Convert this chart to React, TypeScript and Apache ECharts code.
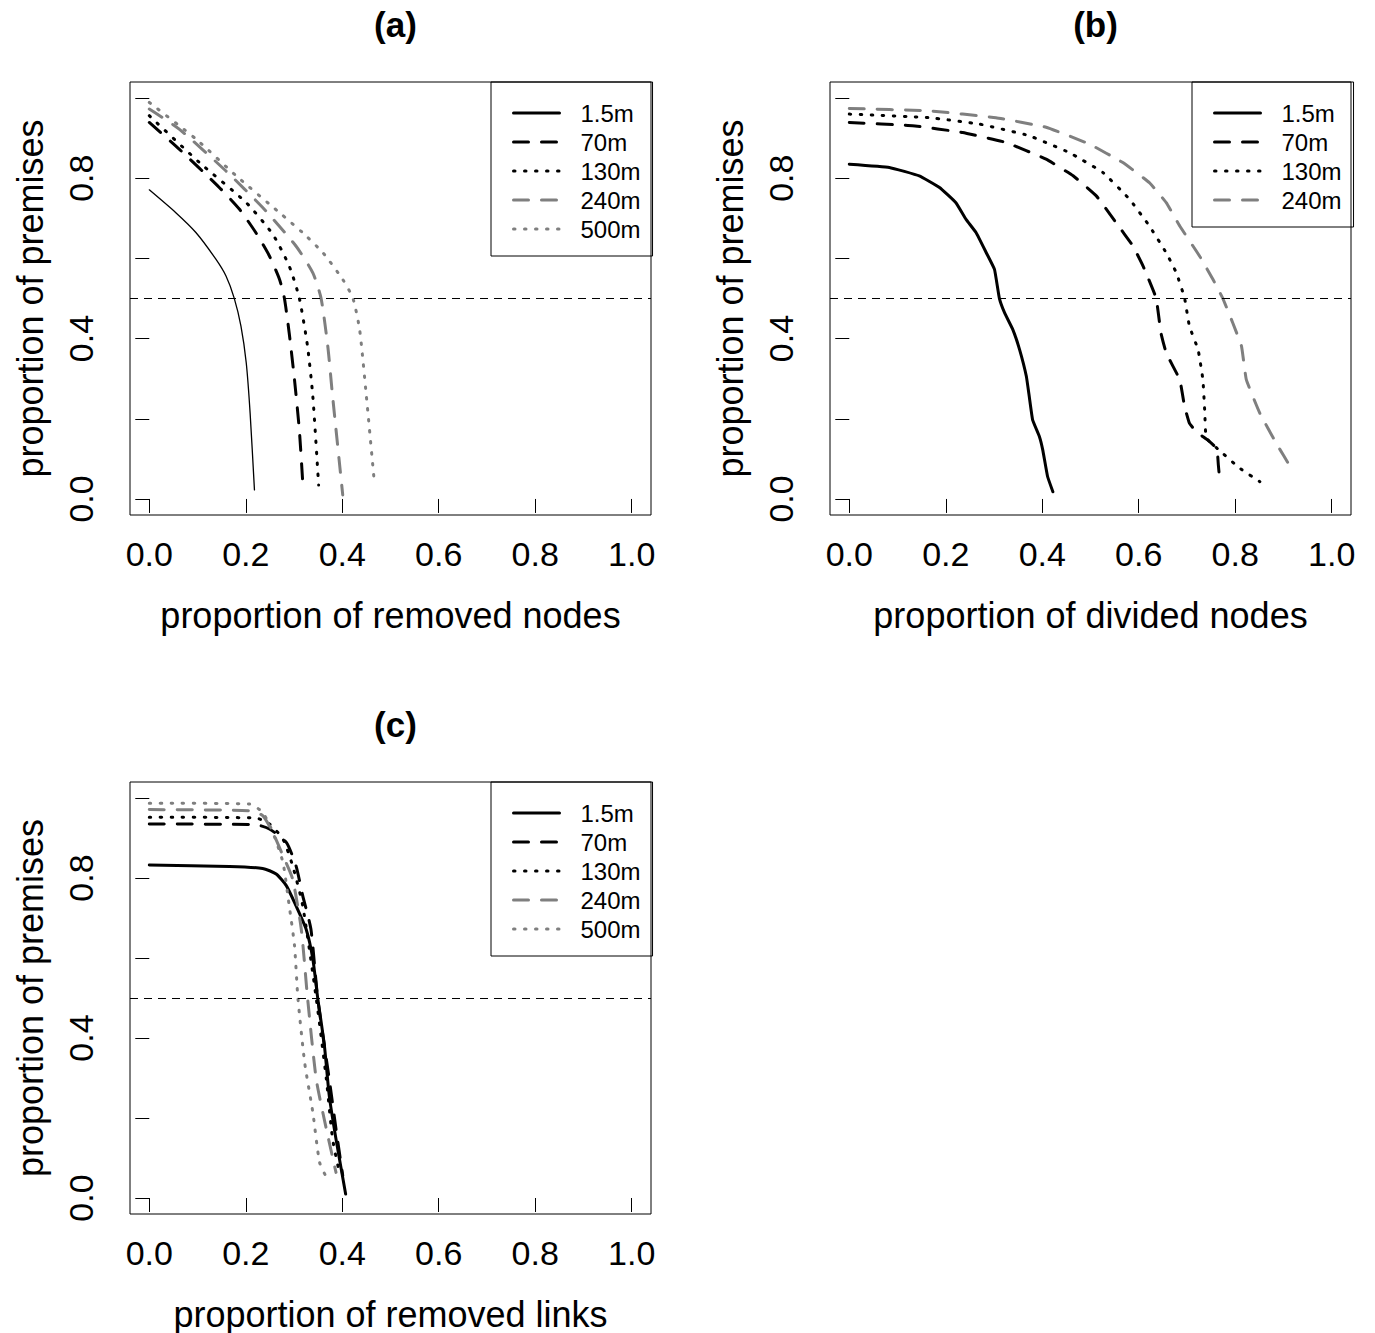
import React, { useEffect, useRef } from "react";
import * as echarts from "echarts";

// ---------- data ----------
const NAMES = ["1.5m", "70m", "130m", "240m", "500m"];
const PANEL_TITLES = ["(a)", "(b)", "(c)"];
const X_TITLES = [
  "proportion of removed nodes",
  "proportion of divided nodes",
  "proportion of removed links",
];
const Y_TITLE = "proportion of premises";
const X_TICKS = [0, 0.2, 0.4, 0.6, 0.8, 1.0];
const X_TICK_LABELS = ["0.0", "0.2", "0.4", "0.6", "0.8", "1.0"];
const Y_TICKS = [0, 0.2, 0.4, 0.6, 0.8, 1.0];
const Y_LABEL_TICKS = [0, 0.4, 0.8];
const Y_TICK_LABELS = ["0.0", "0.4", "0.8"];
const THRESHOLD = 0.5;

// panel (a): removed nodes
const aX15 = [0, 0.055, 0.097, 0.138, 0.159, 0.176, 0.19, 0.201, 0.209, 0.218];
const aY15 = [0.771, 0.714, 0.664, 0.598, 0.556, 0.501, 0.431, 0.339, 0.214, 0.0225];
const aX70 = [0, 0.062, 0.145, 0.187, 0.221, 0.249, 0.27, 0.28, 0.29, 0.301, 0.311, 0.318];
const aY70 = [0.939, 0.8725, 0.777, 0.7225, 0.664, 0.606, 0.5475, 0.501, 0.414, 0.2975, 0.1725, 0.043];
const aX130 = [0, 0.104, 0.201, 0.256, 0.29, 0.311, 0.328, 0.339, 0.351];
const aY130 = [0.956, 0.839, 0.739, 0.66, 0.581, 0.501, 0.381, 0.256, 0.035];
const aX240 = [0, 0.062, 0.159, 0.235, 0.304, 0.339, 0.356, 0.37, 0.38, 0.401];
const aY240 = [0.9725, 0.9225, 0.818, 0.727, 0.631, 0.564, 0.501, 0.381, 0.256, 0.01];
const aX500 = [0, 0.097, 0.18, 0.27, 0.318, 0.36, 0.401, 0.422, 0.436, 0.45, 0.467];
const aY500 = [0.989, 0.8975, 0.806, 0.714, 0.664, 0.614, 0.5475, 0.501, 0.4225, 0.256, 0.035];

// panel (b): divided nodes
const bX15 = [0, 0.083, 0.145, 0.187, 0.221, 0.242, 0.263, 0.284, 0.301, 0.311, 0.322, 0.339, 0.353, 0.367, 0.373, 0.38, 0.394, 0.401, 0.411, 0.422];
const bY15 = [0.835, 0.827, 0.806, 0.777, 0.739, 0.6975, 0.664, 0.614, 0.5725, 0.501, 0.464, 0.4225, 0.3725, 0.306, 0.256, 0.1975, 0.156, 0.1225, 0.056, 0.018];
const bX70 = [0, 0.131, 0.235, 0.325, 0.408, 0.464, 0.512, 0.553, 0.588, 0.609, 0.636, 0.646, 0.657, 0.685, 0.695, 0.705, 0.719, 0.745, 0.762, 0.765, 0.768];
const bY70 = [0.939, 0.931, 0.914, 0.889, 0.8475, 0.806, 0.756, 0.689, 0.631, 0.581, 0.501, 0.414, 0.364, 0.2975, 0.231, 0.189, 0.168, 0.145, 0.125, 0.085, 0.045];
const bX130 = [0, 0.166, 0.27, 0.373, 0.456, 0.526, 0.581, 0.622, 0.657, 0.678, 0.695, 0.705, 0.723, 0.733, 0.737, 0.74, 0.774, 0.809, 0.851];
const bY130 = [0.96, 0.951, 0.935, 0.906, 0.864, 0.814, 0.7475, 0.681, 0.614, 0.564, 0.501, 0.431, 0.3725, 0.2975, 0.214, 0.152, 0.114, 0.077, 0.043];
const bX240 = [0, 0.166, 0.304, 0.408, 0.498, 0.567, 0.622, 0.657, 0.685, 0.726, 0.754, 0.774, 0.795, 0.813, 0.823, 0.851, 0.885, 0.916];
const bY240 = [0.974, 0.968, 0.951, 0.927, 0.885, 0.839, 0.789, 0.739, 0.681, 0.606, 0.5475, 0.501, 0.439, 0.381, 0.2975, 0.214, 0.139, 0.077];

// panel (c): removed links
const cX15 = [0, 0.166, 0.235, 0.263, 0.284, 0.304, 0.325, 0.339, 0.349, 0.363, 0.373, 0.387, 0.407];
const cY15 = [0.8325, 0.829, 0.824, 0.81, 0.781, 0.731, 0.6725, 0.5975, 0.501, 0.381, 0.256, 0.1475, 0.01];
const cX70 = [0, 0.221, 0.249, 0.284, 0.304, 0.318, 0.335, 0.349, 0.373, 0.387, 0.401];
const cY70 = [0.935, 0.933, 0.9225, 0.889, 0.831, 0.756, 0.6725, 0.5, 0.2975, 0.1725, 0.056];
const cX130 = [0, 0.221, 0.249, 0.277, 0.297, 0.318, 0.346, 0.367, 0.38, 0.394];
const cY130 = [0.952, 0.95, 0.935, 0.8975, 0.831, 0.731, 0.5, 0.2975, 0.1475, 0.064];
const cX240 = [0, 0.207, 0.235, 0.256, 0.277, 0.297, 0.315, 0.328, 0.346, 0.367, 0.387];
const cY240 = [0.971, 0.968, 0.956, 0.914, 0.856, 0.7975, 0.6725, 0.501, 0.2975, 0.1725, 0.064];
const cX500 = [0, 0.207, 0.235, 0.256, 0.277, 0.29, 0.301, 0.308, 0.322, 0.339, 0.353, 0.367];
const cY500 = [0.987, 0.985, 0.964, 0.914, 0.839, 0.731, 0.631, 0.501, 0.339, 0.214, 0.089, 0.052];

// ---------- styles ----------
const FONT = "Liberation Sans, Arial, Helvetica, sans-serif";
const GRAY = "#7f7f7f";
const DASH = [15, 13];
const DOT = [1.5, 9.5];
const STYLE: Record<string, { color: string; type: any }> = {
  "1.5m": { color: "#000", type: "solid" },
  "70m": { color: "#000", type: DASH },
  "130m": { color: "#000", type: DOT },
  "240m": { color: GRAY, type: DASH },
  "500m": { color: GRAY, type: DOT },
};

const GRIDS = [
  { left: 130, top: 82 },
  { left: 830, top: 82 },
  { left: 130, top: 782 },
];
const GW = 521;
const GH = 433;

function zip(xs: number[], ys: number[]) {
  return xs.map((x, i) => [x, ys[i]]);
}

function mkSeries(name: string, xs: number[], ys: number[], gi: number, width = 3, withRef = false, smooth = 0.2) {
  const s: any = {
    type: "line",
    name,
    xAxisIndex: gi,
    yAxisIndex: gi,
    data: zip(xs, ys),
    symbol: "none",
    showSymbol: false,
    smooth,
    clip: false,
    lineStyle: { color: STYLE[name].color, type: STYLE[name].type, width, cap: "round", join: "round" },
    itemStyle: { color: STYLE[name].color },
    emphasis: { disabled: true },
  };
  if (withRef) {
    s.markLine = {
      silent: true,
      symbol: "none",
      label: { show: false },
      lineStyle: { color: "#000", type: [8, 6], width: 1, cap: "butt" },
      data: [{ yAxis: THRESHOLD }],
      emphasis: { disabled: true },
    };
  }
  return s;
}

export default function App() {
  const ref = useRef<HTMLDivElement>(null);
  useEffect(() => {
    if (!ref.current) return;
    const chart = echarts.init(ref.current, null, { renderer: "svg" });

    const xAxes = GRIDS.map((_, gi) => ({
      gridIndex: gi,
      type: "value",
      min: -0.04,
      max: 1.04,
      axisLine: { show: false },
      axisTick: { show: true, customValues: X_TICKS, length: 14, lineStyle: { color: "#000", width: 1 } },
      axisLabel: {
        customValues: X_TICKS,
        formatter: (v: number) => X_TICK_LABELS[X_TICKS.findIndex((t) => Math.abs(t - v) < 1e-6)] ?? "",
        fontSize: 34,
        color: "#000",
        fontFamily: FONT,
        margin: 22,
      },
      splitLine: { show: false },
      name: X_TITLES[gi],
      nameLocation: "middle",
      nameGap: 82,
      nameTextStyle: { fontSize: 36, color: "#000", fontFamily: FONT },
    }));

    const yAxes = GRIDS.map((_, gi) => ({
      gridIndex: gi,
      type: "value",
      min: -0.04,
      max: 1.04,
      axisLine: { show: false },
      axisTick: { show: true, customValues: Y_TICKS, length: 14, lineStyle: { color: "#000", width: 1 } },
      axisLabel: {
        customValues: Y_LABEL_TICKS,
        formatter: (v: number) => Y_TICK_LABELS[Y_LABEL_TICKS.findIndex((t) => Math.abs(t - v) < 1e-6)] ?? "",
        fontSize: 34,
        color: "#000",
        fontFamily: FONT,
        rotate: 90,
        margin: 32,
      },
      splitLine: { show: false },
      name: Y_TITLE,
      nameLocation: "middle",
      nameGap: 82,
      nameRotate: 90,
      nameTextStyle: { fontSize: 36, color: "#000", fontFamily: FONT },
    }));

    const series: any[] = [
      mkSeries("1.5m", aX15, aY15, 0, 1.3, true),
      mkSeries("70m", aX70, aY70, 0),
      mkSeries("130m", aX130, aY130, 0),
      mkSeries("240m", aX240, aY240, 0),
      mkSeries("500m", aX500, aY500, 0),
      mkSeries("1.5m", bX15, bY15, 1, 3, true, 0.1),
      mkSeries("70m", bX70, bY70, 1, 3, false, 0.1),
      mkSeries("130m", bX130, bY130, 1, 3, false, 0.1),
      mkSeries("240m", bX240, bY240, 1, 3, false, 0.1),
      mkSeries("1.5m", cX15, cY15, 2, 3, true),
      mkSeries("70m", cX70, cY70, 2),
      mkSeries("130m", cX130, cY130, 2),
      mkSeries("240m", cX240, cY240, 2),
      mkSeries("500m", cX500, cY500, 2),
    ];

    const legendBase = {
      orient: "vertical",
      borderColor: "#000",
      borderWidth: 1,
      borderRadius: 0,
      padding: [19, 12, 15, 21],
      itemWidth: 46,
      itemHeight: 20,
      itemGap: 5,
      selectedMode: false,
      inactiveColor: "#000",
      itemStyle: { opacity: 0 },
      lineStyle: { width: 3, cap: "round" },
      textStyle: { fontSize: 24, lineHeight: 24, color: "#000", fontFamily: FONT, padding: [0, 0, 0, 16] },
    };

    chart.setOption({
      animation: false,
      backgroundColor: "#fff",
      title: PANEL_TITLES.map((t, i) => ({
        text: t,
        left: GRIDS[i].left + GW / 2,
        top: GRIDS[i].top - 80,
        textAlign: "center",
        textStyle: { fontSize: 35, fontWeight: "bold", color: "#000", fontFamily: FONT },
      })),
      grid: GRIDS.map((g) => ({
        left: g.left,
        top: g.top,
        width: GW,
        height: GH,
        show: true,
        borderColor: "#000",
        borderWidth: 1,
        backgroundColor: "transparent",
        containLabel: false,
      })),
      legend: [
        { ...legendBase, left: 491, top: 82, data: NAMES },
        { ...legendBase, left: 1192, top: 82, data: NAMES.slice(0, 4) },
        { ...legendBase, left: 491, top: 782, data: NAMES },
      ],
      xAxis: xAxes,
      yAxis: yAxes,
      series,
    });
    return () => chart.dispose();
  }, []);
  return (
    <div
      ref={ref}
      style={{ position: "absolute", left: 0, top: 0, width: 1375, height: 1333, background: "#fff" }}
    />
  );
}
